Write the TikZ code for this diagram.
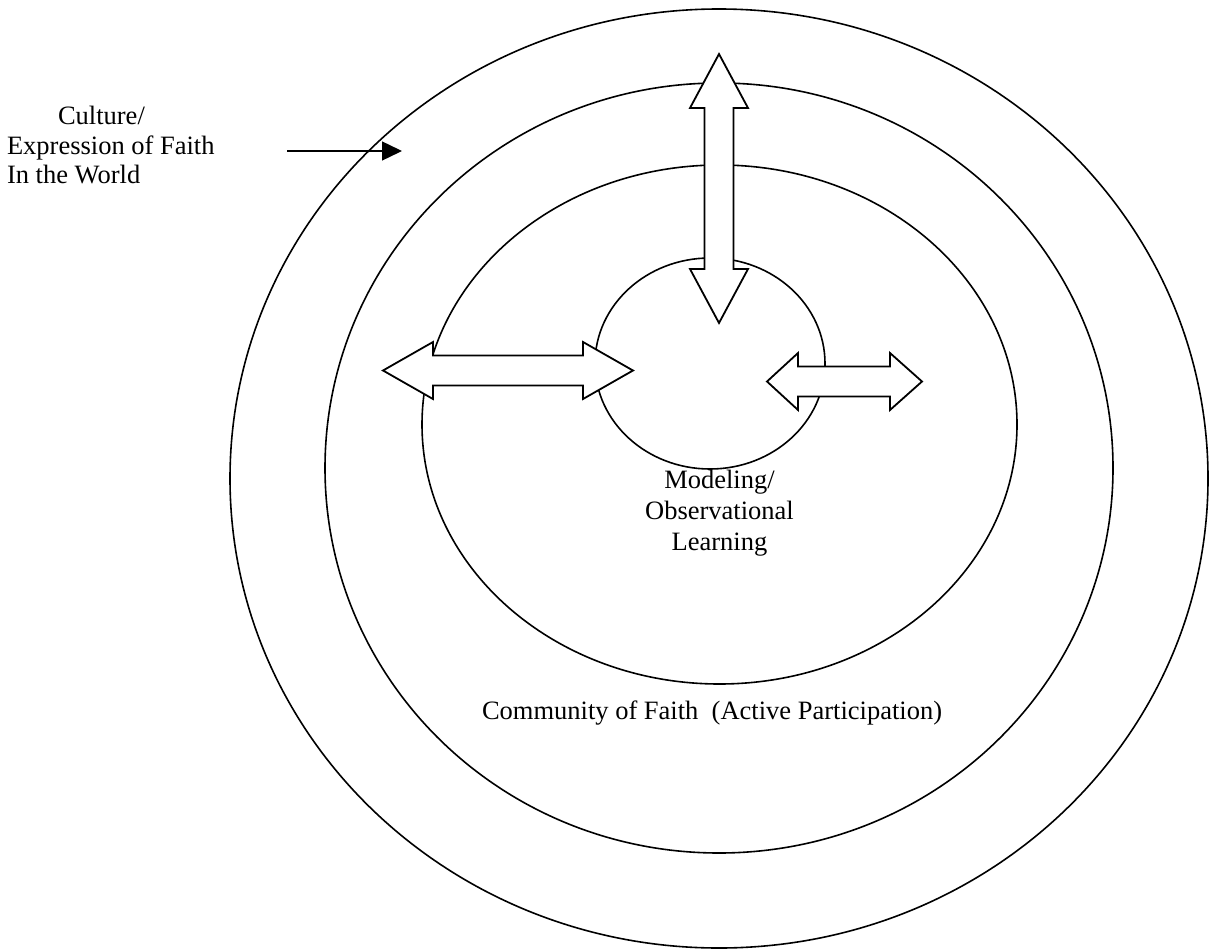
\documentclass[tikz,border=0pt]{standalone}
\usepackage{fontspec}
\setmainfont{Liberation Serif}
\usetikzlibrary{shapes.geometric,arrows.meta}
\tikzset{
  ring/.style={draw, ellipse, line width=1.6pt, inner sep=0pt, outer sep=0pt},
  blockarrow/.style={draw, fill=white, line width=1.8pt, line join=miter},
  lbl/.style={inner sep=0pt, outer sep=0pt, font=\fontsize{26.5}{29.5}\selectfont},
  pointer/.style={line width=1.4pt, -{Triangle[length=20pt,width=19pt]}}
}
\begin{document}
\begin{tikzpicture}[x=1pt,y=-1pt]
\useasboundingbox (0,0) rectangle (1209,950);
% rings
\node[ring, minimum width=978pt, minimum height=939pt] (outer) at (719,478.5) {};
\node[ring, minimum width=788pt, minimum height=770pt] (second) at (719,468) {};
\node[ring, minimum width=595pt, minimum height=519pt] (third) at (719.5,424.5) {};
\node[ring, minimum width=230pt, minimum height=211pt] (core) at (710,363.5) {};
% block arrows
\draw[blockarrow] (719,54) -- (748,108) -- (733.5,108) -- (733.5,269) -- (748,269) -- (719,323)
  -- (690,269) -- (704.5,269) -- (704.5,108) -- (690,108) -- cycle;
\draw[blockarrow] (383,370.5) -- (433,342) -- (433,355.5) -- (583,355.5) -- (583,342) -- (633,370.5)
  -- (583,399) -- (583,385.5) -- (433,385.5) -- (433,399) -- cycle;
\draw[blockarrow] (767,381.5) -- (798,353) -- (798,366.5) -- (890,366.5) -- (890,353) -- (922,381.5)
  -- (890,410) -- (890,396.5) -- (798,396.5) -- (798,410) -- cycle;
% labels
\node[lbl, anchor=base west] (cult1) at (58,124) {Culture/};
\node[lbl, anchor=base west] (cult2) at (7,154) {Expression of Faith};
\node[lbl, anchor=base west] (cult3) at (7,183) {In the World};
\node[lbl, anchor=base] (mod1) at (719.5,488) {Modeling/};
\node[lbl, anchor=base] (mod2) at (719.5,519) {Observational};
\node[lbl, anchor=base] (mod3) at (719.5,550) {Learning};
\node[lbl, anchor=base] (comm) at (712,719) {Community of Faith\ \ (Active Participation)};
% pointer
\coordinate (ps) at (287,151);
\coordinate (pe) at (402,151);
\draw[pointer] (ps) -- (pe);
\end{tikzpicture}
\end{document}
